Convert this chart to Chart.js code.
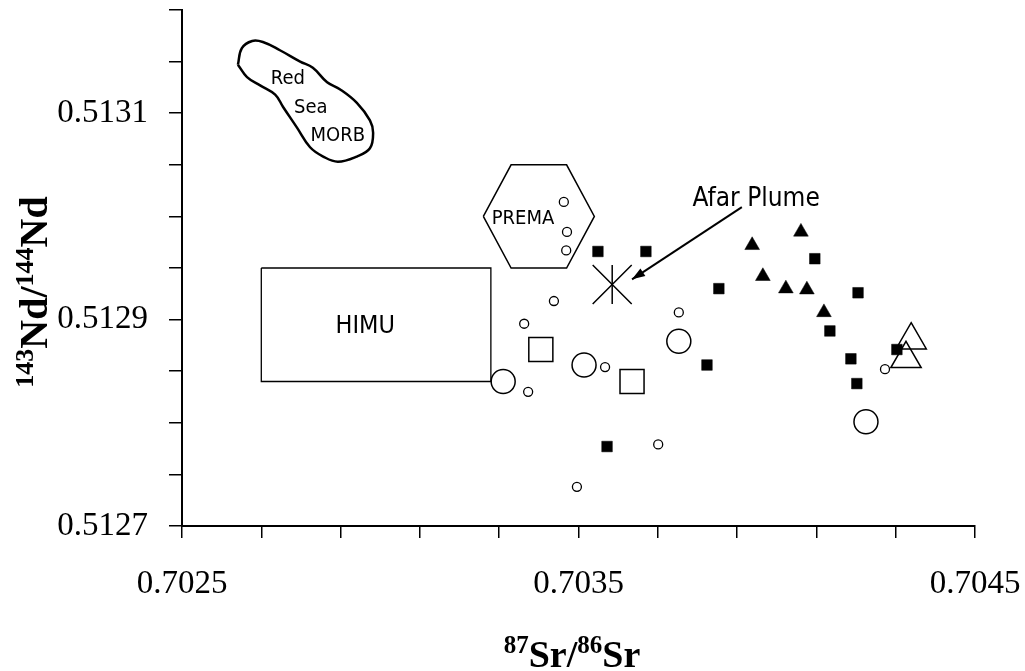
<!DOCTYPE html>
<html>
<head>
<meta charset="utf-8">
<script src="https://cdn.jsdelivr.net/npm/chart.js@4.4.1/dist/chart.umd.min.js"></script>
<style>
  body { margin: 0; background: #fff; }
  #canvas { display: block; }
</style>
</head>
<body>
<canvas id="canvas" width="1025" height="671" style="width:1025px;height:671px"></canvas>
<script>
// axis ticks
var xTickValues = [0.7025, 0.7027, 0.7029, 0.7031, 0.7033, 0.7035, 0.7037, 0.7039, 0.7041, 0.7043, 0.7045];
var xTickLabels = ['0.7025', '', '', '', '', '0.7035', '', '', '', '', '0.7045'];
var yTickValues = [0.5127, 0.51275, 0.5128, 0.51285, 0.5129, 0.51295, 0.5130, 0.51305, 0.5131, 0.51315, 0.5132];
var yTickLabels = ['0.5127', '', '', '', '0.5129', '', '', '', '0.5131', '', ''];

// samples
var smallCircleX = [0.703463, 0.703471, 0.703469, 0.703438, 0.703363, 0.703373, 0.703567, 0.703753, 0.703701, 0.703496, 0.704273];
var smallCircleY = [0.513014, 0.512985, 0.512967, 0.512918, 0.512896, 0.512830, 0.512854, 0.512907, 0.512779, 0.512738, 0.512852];
var bigCircleX = [0.703310, 0.703514, 0.703753, 0.704225];
var bigCircleY = [0.512840, 0.512856, 0.512879, 0.512801];
var bigSquareX = [0.703405, 0.703635];
var bigSquareY = [0.512871, 0.512840];
var filledSquareX = [0.703549, 0.703670, 0.703854, 0.703824, 0.703572, 0.704096, 0.704205, 0.704134, 0.704187, 0.704202, 0.704303];
var filledSquareY = [0.512966, 0.512966, 0.512930, 0.512856, 0.512777, 0.512959, 0.512926, 0.512889, 0.512862, 0.512838, 0.512871];
var filledTriX = [0.703938, 0.704061, 0.703965, 0.704023, 0.704076, 0.704119];
var filledTriY = [0.512972, 0.512985, 0.512942, 0.512930, 0.512929, 0.512907];
var openTriX = [0.704339, 0.704326];
var openTriY = [0.512880, 0.512862];
var plumeX = [0.703585];
var plumeY = [0.512934];

// fields
var himuX = [0.70270, 0.703279, 0.703279, 0.70270, 0.70270];
var himuY = [0.51295, 0.51295, 0.51284, 0.51284, 0.51295];
var premaX = [0.70326, 0.70333, 0.70347, 0.70354, 0.70347, 0.70333, 0.70326];
var premaY = [0.51300, 0.51305, 0.51305, 0.51300, 0.51295, 0.51295, 0.51300];
var morbX = [0.702641, 0.702651, 0.702677, 0.702704, 0.702747, 0.702798, 0.702830, 0.702866, 0.702899, 0.702941, 0.702974,
             0.702982, 0.702974, 0.702941, 0.702893, 0.702856, 0.702823, 0.702790, 0.702755, 0.702735, 0.702697, 0.702664, 0.702641];
var morbY = [0.513147, 0.513163, 0.513170, 0.513169, 0.513161, 0.513150, 0.513144, 0.513130, 0.513123, 0.513110, 0.513093,
             0.513081, 0.513066, 0.513058, 0.513053, 0.513058, 0.513067, 0.513086, 0.513106, 0.513118, 0.513127, 0.513135, 0.513147];
var arrowX = [0.703912, 0.703635];
var arrowY = [0.513009, 0.512939];

// field labels
var labelText = ['Red', 'Sea', 'MORB', 'PREMA', 'HIMU', 'Afar Plume'];
var labelX = [0.702767, 0.702825, 0.702893, 0.703360, 0.702962, 0.703948];
var labelY = [0.513133, 0.513105, 0.513078, 0.512998, 0.512893, 0.513017];
var labelSize = [20, 20, 20, 20, 25, 26];

var xTitle = [['87', true], ['Sr', false], ['/', false], ['86', true], ['Sr', false]];
var yTitle = [['143', true], ['Nd', false], ['/', false], ['144', true], ['Nd', false]];

var serif = "'Liberation Serif', 'Times New Roman', serif";
var sans = "'DejaVu Sans Condensed', 'DejaVu Sans', sans-serif";

function pts(xs, ys) {
    var out = [];
    xs.forEach(function(x, i) { out.push({x: x, y: ys[i]}); });
    return out;
}

function markers(xs, ys, style, r, filled, extra) {
    var ds = {
        data: pts(xs, ys),
        pointStyle: style,
        pointRadius: r,
        pointBorderWidth: 1.5,
        borderColor: '#000',
        backgroundColor: filled ? '#000' : 'rgba(0,0,0,0)',
        showLine: false
    };
    return Object.assign(ds, extra || {});
}

function outline(xs, ys, width, tension) {
    return {
        data: pts(xs, ys),
        showLine: true,
        pointRadius: 0,
        borderColor: '#000',
        borderWidth: width,
        tension: tension || 0,
        fill: false
    };
}

function drawParts(ctx, parts, size) {
    var supSize = Math.round(size * 0.66);
    var total = 0;
    parts.forEach(function(p) {
        ctx.font = 'bold ' + (p[1] ? supSize : size) + 'px ' + serif;
        total += ctx.measureText(p[0]).width;
    });
    var x = -total / 2;
    parts.forEach(function(p) {
        ctx.font = 'bold ' + (p[1] ? supSize : size) + 'px ' + serif;
        ctx.fillText(p[0], x, p[1] ? -size * 0.36 : 0);
        x += ctx.measureText(p[0]).width;
    });
}

var decorPlugin = {
    id: 'decor',
    afterDatasetsDraw: function(chart) {
        var ctx = chart.ctx;
        var xs = chart.scales.x, ys = chart.scales.y;
        ctx.save();
        ctx.fillStyle = '#000';
        ctx.textAlign = 'center';
        ctx.textBaseline = 'middle';
        labelText.forEach(function(t, i) {
            ctx.font = labelSize[i] + 'px ' + sans;
            ctx.fillText(t, xs.getPixelForValue(labelX[i]), ys.getPixelForValue(labelY[i]));
        });
        // arrow head
        var x0 = xs.getPixelForValue(arrowX[0]), y0 = ys.getPixelForValue(arrowY[0]);
        var x1 = xs.getPixelForValue(arrowX[1]), y1 = ys.getPixelForValue(arrowY[1]);
        var a = Math.atan2(y1 - y0, x1 - x0);
        ctx.beginPath();
        ctx.moveTo(x1, y1);
        ctx.lineTo(x1 - 13 * Math.cos(a) + 4.5 * Math.sin(a), y1 - 13 * Math.sin(a) - 4.5 * Math.cos(a));
        ctx.lineTo(x1 - 13 * Math.cos(a) - 4.5 * Math.sin(a), y1 - 13 * Math.sin(a) + 4.5 * Math.cos(a));
        ctx.closePath();
        ctx.fill();
        // axis titles
        ctx.textAlign = 'left';
        ctx.textBaseline = 'alphabetic';
        ctx.save();
        ctx.translate(572, 667);
        drawParts(ctx, xTitle, 38);
        ctx.restore();
        ctx.save();
        ctx.translate(47, 292);
        ctx.rotate(-Math.PI / 2);
        drawParts(ctx, yTitle, 40);
        ctx.restore();
        ctx.restore();
    }
};

var tickFont = {family: serif, size: 33};

var config = {
    type: 'scatter',
    data: {
        datasets: [
            outline(morbX, morbY, 2.5, 0.4),
            outline(premaX, premaY, 1.5),
            outline(himuX, himuY, 1.3),
            outline(arrowX, arrowY, 2),
            markers(smallCircleX, smallCircleY, 'circle', 4.5, false, {pointBorderWidth: 1.3}),
            markers(bigCircleX, bigCircleY, 'circle', 12, false),
            markers(bigSquareX, bigSquareY, 'rect', 17, false),
            markers(openTriX, openTriY, 'triangle', 17.5, false),
            markers(filledSquareX, filledSquareY, 'rect', 7.5, true, {pointBorderWidth: 0.5}),
            markers(filledTriX, filledTriY, 'triangle', 8.5, true, {pointBorderWidth: 0.5}),
            markers(plumeX, plumeY, 'crossRot', 27.6, false),
            markers(plumeX, plumeY, 'line', 19.5, false, {pointRotation: 90})
        ]
    },
    options: {
        responsive: false,
        animation: false,
        events: [],
        layout: {autoPadding: false, padding: {top: 10, right: 50, left: 0, bottom: 0}},
        plugins: {
            legend: {display: false},
            tooltip: {enabled: false}
        },
        scales: {
            x: {
                type: 'linear',
                min: 0.7025,
                max: 0.7045,
                afterBuildTicks: function(scale) {
                    scale.ticks = xTickValues.map(function(v) { return {value: v}; });
                },
                afterFit: function(scale) {
                    scale.height = 145;
                    scale.paddingLeft = 0;
                    scale.paddingRight = 0;
                },
                ticks: {
                    autoSkip: false,
                    maxRotation: 0,
                    padding: 27,
                    color: '#000',
                    font: tickFont,
                    callback: function(v, i) { return xTickLabels[i]; }
                },
                grid: {drawOnChartArea: false, drawTicks: true, tickLength: 12, color: '#000', lineWidth: 1.5},
                border: {color: '#000', width: 2}
            },
            y: {
                type: 'linear',
                min: 0.5127,
                max: 0.5132,
                afterBuildTicks: function(scale) {
                    scale.ticks = yTickValues.map(function(v) { return {value: v}; });
                },
                afterFit: function(scale) {
                    scale.width = 182;
                    scale.paddingTop = 0;
                    scale.paddingBottom = 0;
                },
                ticks: {
                    autoSkip: false,
                    padding: 21,
                    color: '#000',
                    font: tickFont,
                    callback: function(v, i) { return yTickLabels[i]; }
                },
                grid: {drawOnChartArea: false, drawTicks: true, tickLength: 13, color: '#000', lineWidth: 1.5},
                border: {color: '#000', width: 2}
            }
        }
    },
    plugins: [decorPlugin]
};

window.onload = function() {
    var ctx = document.getElementById('canvas').getContext('2d');
    window.myChart = new Chart(ctx, config);
};
</script>
</body>
</html>
